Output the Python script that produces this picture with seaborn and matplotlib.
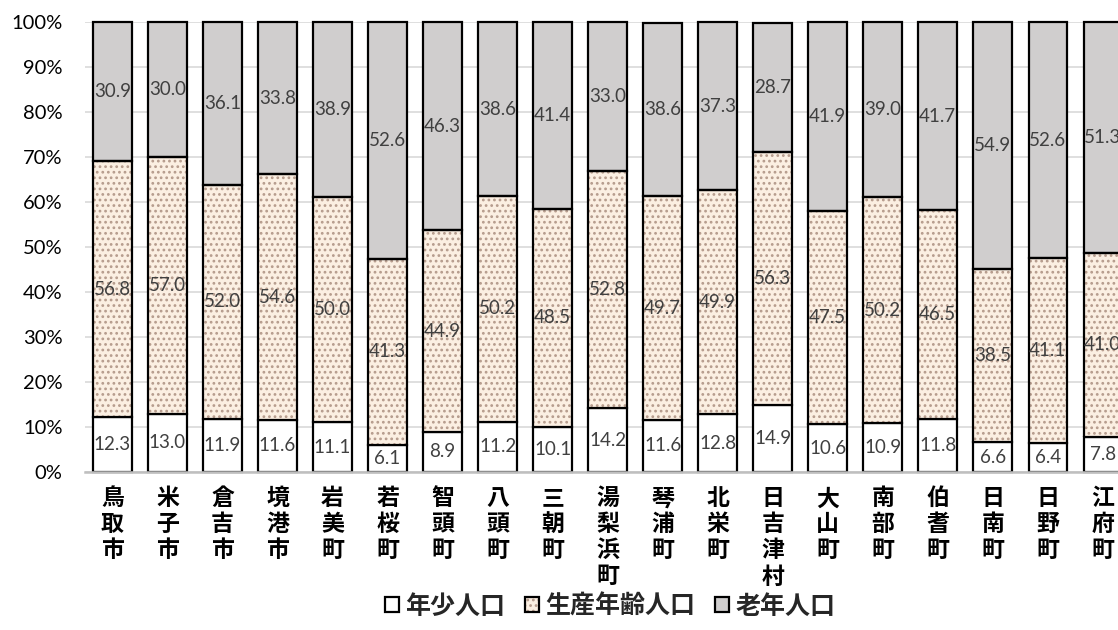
import numpy as np
import pandas as pd
import matplotlib
matplotlib.use("Agg")
import matplotlib.pyplot as plt
from matplotlib.patches import Patch
from matplotlib.legend_handler import HandlerTuple
import seaborn as sns

# 鳥取県 市町村別 年齢3区分人口構成比 (%)
municipalities = ["鳥取市", "米子市", "倉吉市", "境港市", "岩美町", "若桜町", "智頭町",
                  "八頭町", "三朝町", "湯梨浜町", "琴浦町", "北栄町", "日吉津村", "大山町",
                  "南部町", "伯耆町", "日南町", "日野町", "江府町"]
youth = [12.3, 13.0, 11.9, 11.6, 11.1, 6.1, 8.9, 11.2, 10.1, 14.2,
         11.6, 12.8, 14.9, 10.6, 10.9, 11.8, 6.6, 6.4, 7.8]
working = [56.8, 57.0, 52.0, 54.6, 50.0, 41.3, 44.9, 50.2, 48.5, 52.8,
           49.7, 49.9, 56.3, 47.5, 50.2, 46.5, 38.5, 41.1, 41.0]
elderly = [30.9, 30.0, 36.1, 33.8, 38.9, 52.6, 46.3, 38.6, 41.4, 33.0,
           38.6, 37.3, 28.7, 41.9, 39.0, 41.7, 54.9, 52.6, 51.3]
series_names = ["年少人口", "生産年齢人口", "老年人口"]
y_ticks = [0, 10, 20, 30, 40, 50, 60, 70, 80, 90, 100]

sns.set_theme(style="white")
plt.rcParams["font.family"] = ["Lato", "Noto Sans CJK JP", "DejaVu Sans"]
plt.rcParams["hatch.linewidth"] = 1.2

df = pd.DataFrame({"name": municipalities, "youth": youth,
                   "working": working, "elderly": elderly})
bottom_working = df["youth"].to_numpy()
bottom_elderly = (df["youth"] + df["working"]).to_numpy()

fig = plt.figure(figsize=(11.18, 6.30), dpi=100)
ax = fig.add_axes([0.076, 0.2508, 0.9350, 0.7135])

EDGE = "black"
LW = 1.6
BAR_W = 0.7
WHITE = "#ffffff"
BEIGE = "#fbefe2"
DOT = "#b59b8c"
GREY = "#d0cece"
LABEL_KW = dict(label_type="center", fontsize=13.5, color="#404040")
BAR_KW = dict(saturation=1, width=BAR_W, ax=ax, clip_on=False)

# 年少人口
sns.barplot(data=df, x="name", y="youth", color=WHITE, edgecolor=EDGE,
            linewidth=LW, zorder=3, **BAR_KW)
ax.bar_label(ax.containers[-1], labels=[f"{v:.1f}" for v in youth], **LABEL_KW)

# 生産年齢人口 (dotted fill, then outline)
sns.barplot(data=df, x="name", y="working", bottom=bottom_working, color=BEIGE,
            edgecolor=DOT, linewidth=0, hatch="...", zorder=3, **BAR_KW)
sns.barplot(data=df, x="name", y="working", bottom=bottom_working, color=BEIGE,
            facecolor="none", edgecolor=EDGE, linewidth=LW, zorder=4, **BAR_KW)
ax.bar_label(ax.containers[-1], labels=[f"{v:.1f}" for v in working], **LABEL_KW)

# 老年人口
sns.barplot(data=df, x="name", y="elderly", bottom=bottom_elderly, color=GREY,
            edgecolor=EDGE, linewidth=LW, zorder=3, **BAR_KW)
ax.bar_label(ax.containers[-1], labels=[f"{v:.1f}" for v in elderly], **LABEL_KW)

for t in ax.texts:
    t.set_zorder(6)

ax.set_xlim(-0.5, len(municipalities) - 0.5)
ax.set_ylim(0, 100)
ax.set_yticks(y_ticks)
ax.set_yticklabels([f"{v}%" for v in y_ticks], fontsize=14.5, color="black")
ax.tick_params(axis="y", length=0, pad=16)
ax.yaxis.grid(True, color="#d9d9d9", linewidth=1.2, zorder=0)
ax.set_axisbelow(True)
ax.set_xlabel("")
ax.set_ylabel("")

ax.set_xticks(range(len(municipalities)))
ax.set_xticklabels(["\n".join(n) for n in municipalities], fontsize=16.5,
                   fontweight="bold", family=["Noto Sans CJK JP", "DejaVu Sans"],
                   linespacing=1.17, va="top", color="black")
ax.tick_params(axis="x", length=0, pad=11)

for side in ["top", "right", "left"]:
    ax.spines[side].set_visible(False)
ax.spines["bottom"].set_color("#bfbfbf")
ax.spines["bottom"].set_linewidth(1.8)
ax.spines["bottom"].set_zorder(5)

handles = [
    Patch(facecolor=WHITE, edgecolor=EDGE, linewidth=LW),
    (Patch(facecolor=BEIGE, edgecolor=DOT, linewidth=0, hatch="..."),
     Patch(facecolor="none", edgecolor=EDGE, linewidth=LW)),
    Patch(facecolor=GREY, edgecolor=EDGE, linewidth=LW),
]
fig.legend(handles, series_names, loc="center", bbox_to_anchor=(0.546, 0.037),
           ncol=3, frameon=False, handlelength=0.55, handleheight=0.55,
           handletextpad=0.25, columnspacing=0.8,
           handler_map={tuple: HandlerTuple(ndivide=1)},
           prop={"family": ["Noto Sans CJK JP", "DejaVu Sans"], "size": 18,
                 "weight": "bold"})

fig.savefig("out.png", dpi=100)
